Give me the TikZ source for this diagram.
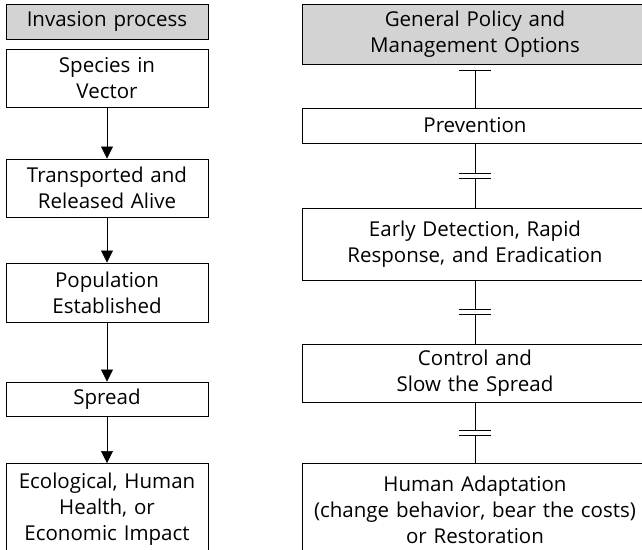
\documentclass[tikz,border=0pt]{standalone}
\usepackage{fontspec}
\setmainfont{Open Sans}
\usepackage{xcolor}
\usepackage{tikz}
\usetikzlibrary{arrows.meta,decorations.markings}
\definecolor{headgray}{HTML}{D3D3D3}

\begin{document}
\begin{tikzpicture}[x=1pt,y=-1pt,line width=0.9pt,
  box/.style={draw,align=center,inner sep=0pt,font=\fontsize{20.5}{26}\selectfont},
  leftbox/.style={box,text width=202pt,minimum height=#1},
  rightbox/.style={box,text width=346pt,minimum height=#1},
  flow/.style={-{Triangle[width=12pt,length=12pt]},line width=0.7pt},
  breakline/.style={line width=0.7pt,postaction={decorate},
    decoration={markings,mark=at position 0.5 with {
      \fill[white] (-2.5pt,-16pt) rectangle (2.5pt,16pt);
      \draw[line width=0.7pt] (-2.5pt,-16pt) -- (-2.5pt,16pt) (2.5pt,-16pt) -- (2.5pt,16pt);}}}]
\useasboundingbox (0,0) rectangle (642,549);
\clip (0,0) rectangle (642,549);
% invasion process
\node[leftbox=35pt,fill=headgray] (inv) at (107,21.5) {Invasion process};
\node[leftbox=58pt] (vector) at (107,78) {Species in\\Vector};
\node[leftbox=58pt] (released) at (107,188) {Transported and\\Released Alive};
\node[leftbox=59pt] (established) at (107,292.5) {Population\\Established};
\node[leftbox=34pt] (spread) at (107,399) {Spread};
\node[leftbox=92pt,anchor=north] (impact) at (107,463) {Ecological, Human\\Health, or\\Economic Impact};
\draw[flow] (vector) -- (released);
\draw[flow] (released) -- (established);
\draw[flow] (established) -- (spread);
\draw[flow] (spread) -- (impact);
% policy and management options
\node[rightbox=60pt,fill=headgray] (policy) at (475,34) {General Policy and\\Management Options};
\node[rightbox=35pt] (prevention) at (475,125.5) {Prevention};
\node[rightbox=72pt] (eradication) at (475,244) {Early Detection, Rapid\\Response, and Eradication};
\node[rightbox=58pt] (control) at (475,373) {Control and\\Slow the Spread};
\node[rightbox=92pt,anchor=north] (adaptation) at (475,463) {Human Adaptation\\(change behavior, bear the costs)\\or Restoration};
\draw[{Bar[width=32pt]}-,line width=0.7pt,shorten <=6pt] (policy) -- (prevention);
\draw[breakline] (prevention) -- (eradication);
\draw[breakline] (eradication) -- (control);
\draw[breakline] (control) -- (adaptation);
\end{tikzpicture}
\end{document}
